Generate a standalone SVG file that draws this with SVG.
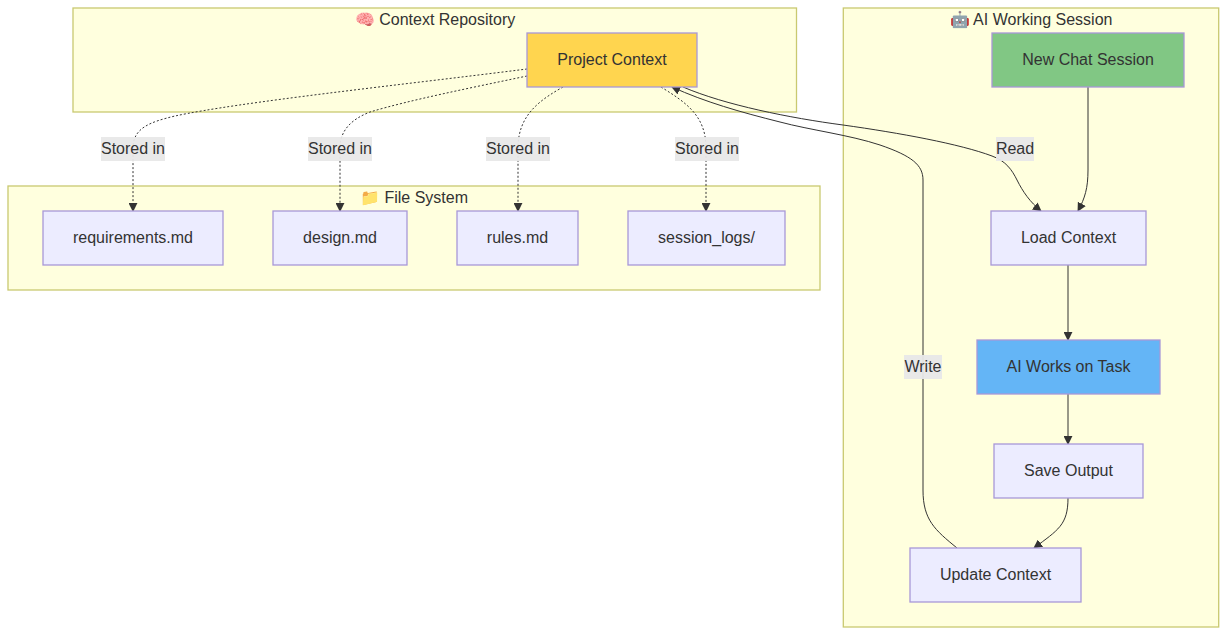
<svg xmlns="http://www.w3.org/2000/svg" width="1227" height="635" viewBox="0 0 1227 635">
<style>
text{font-family:"Liberation Sans",Arial,sans-serif;font-size:16px;fill:#333;text-anchor:middle}
.cluster{fill:#ffffde;stroke:#c9c970;stroke-width:1.3}
.node{fill:#ececff;stroke:#a898d8;stroke-width:1.3}
.edge{fill:none;stroke:#333;stroke-width:1}
.dot{stroke-dasharray:2 2}
.lab{fill:#e8e8e8;fill-opacity:.95}
</style>
<defs><marker id="arrow" viewBox="0 0 10 10" refX="9" refY="5" markerWidth="9" markerHeight="9" markerUnits="userSpaceOnUse" orient="auto"><path d="M0,0L10,5L0,10z" fill="#333"/></marker></defs>
<g id="cluster-context"><rect class="cluster" x="73" y="8" width="723.500" height="104"/><text x="435" y="25">🧠 Context Repository</text></g>
<g id="cluster-files"><rect class="cluster" x="8" y="186" width="812" height="104"/><text x="414" y="203">📁 File System</text></g>
<g id="cluster-session"><rect class="cluster" x="843.300" y="8" width="375.400" height="619"/><text x="1031" y="25">🤖 AI Working Session</text></g>
<g id="connectors">
<path class="edge dot" marker-end="url(#arrow)" d="M527,69C400,85 240,102 175,116C150,122 133,128 133,148L133,211"/>
<path class="edge dot" marker-end="url(#arrow)" d="M527,76C470,88 410,100 370,112C352,119 340,130 340,148L340,211"/>
<path class="edge dot" marker-end="url(#arrow)" d="M563,87C540,100 518,115 518,148L518,211"/>
<path class="edge dot" marker-end="url(#arrow)" d="M661,87C685,102 706,115 706,148L706,211"/>
<path class="edge" marker-end="url(#arrow)" d="M683,87C725,105 790,118 843,125C900,133 960,144 992,156C1006,161 1012,170 1017,180C1023,192 1030,202 1041,211"/>
<path class="edge" marker-end="url(#arrow)" d="M1088,87L1088,170C1088,188 1085,198 1078,211"/>
<path class="edge" marker-end="url(#arrow)" d="M1068,265L1068,340"/>
<path class="edge" marker-end="url(#arrow)" d="M1068,394L1068,444"/>
<path class="edge" marker-end="url(#arrow)" d="M1068,498C1068,525 1058,530 1034,548"/>
<path class="edge" marker-end="url(#arrow)" d="M957,548C935,530 923,520 923,490L923,180C923,165 912,156 880,145C850,135 810,130 780,122C740,112 705,102 672,87"/>
<rect class="lab" x="101" y="137" width="64" height="24"/><text x="133" y="154">Stored in</text>
<rect class="lab" x="308" y="137" width="64" height="24"/><text x="340" y="154">Stored in</text>
<rect class="lab" x="486" y="137" width="64" height="24"/><text x="518" y="154">Stored in</text>
<rect class="lab" x="675" y="137" width="64" height="24"/><text x="707" y="154">Stored in</text>
<rect class="lab" x="996" y="137" width="38" height="24"/><text x="1015" y="154">Read</text>
<rect class="lab" x="904" y="355" width="38" height="24"/><text x="923" y="372">Write</text>
</g>
<g id="project-context"><rect class="node" style="fill:#ffd54f" x="527" y="33" width="170" height="54"/><text x="612" y="65">Project Context</text></g>
<g id="new-chat"><rect class="node" style="fill:#81c784" x="992" y="33" width="192" height="54"/><text x="1088" y="65">New Chat Session</text></g>
<g id="requirements"><rect class="node" x="43" y="211" width="180" height="54"/><text x="133" y="243">requirements.md</text></g>
<g id="design"><rect class="node" x="273" y="211" width="134" height="54"/><text x="340" y="243">design.md</text></g>
<g id="rules"><rect class="node" x="457" y="211" width="121" height="54"/><text x="517.500" y="243">rules.md</text></g>
<g id="session-logs"><rect class="node" x="628" y="211" width="157" height="54"/><text x="706.500" y="243">session_logs/</text></g>
<g id="load-context"><rect class="node" x="991" y="211" width="155" height="54"/><text x="1068.500" y="243">Load Context</text></g>
<g id="ai-works"><rect class="node" style="fill:#64b5f6" x="977" y="340" width="183" height="54"/><text x="1068.500" y="372">AI Works on Task</text></g>
<g id="save-output"><rect class="node" x="994" y="444" width="149" height="54"/><text x="1068.500" y="476">Save Output</text></g>
<g id="update-context"><rect class="node" x="910" y="548" width="171" height="54"/><text x="995.500" y="580">Update Context</text></g>
</svg>
